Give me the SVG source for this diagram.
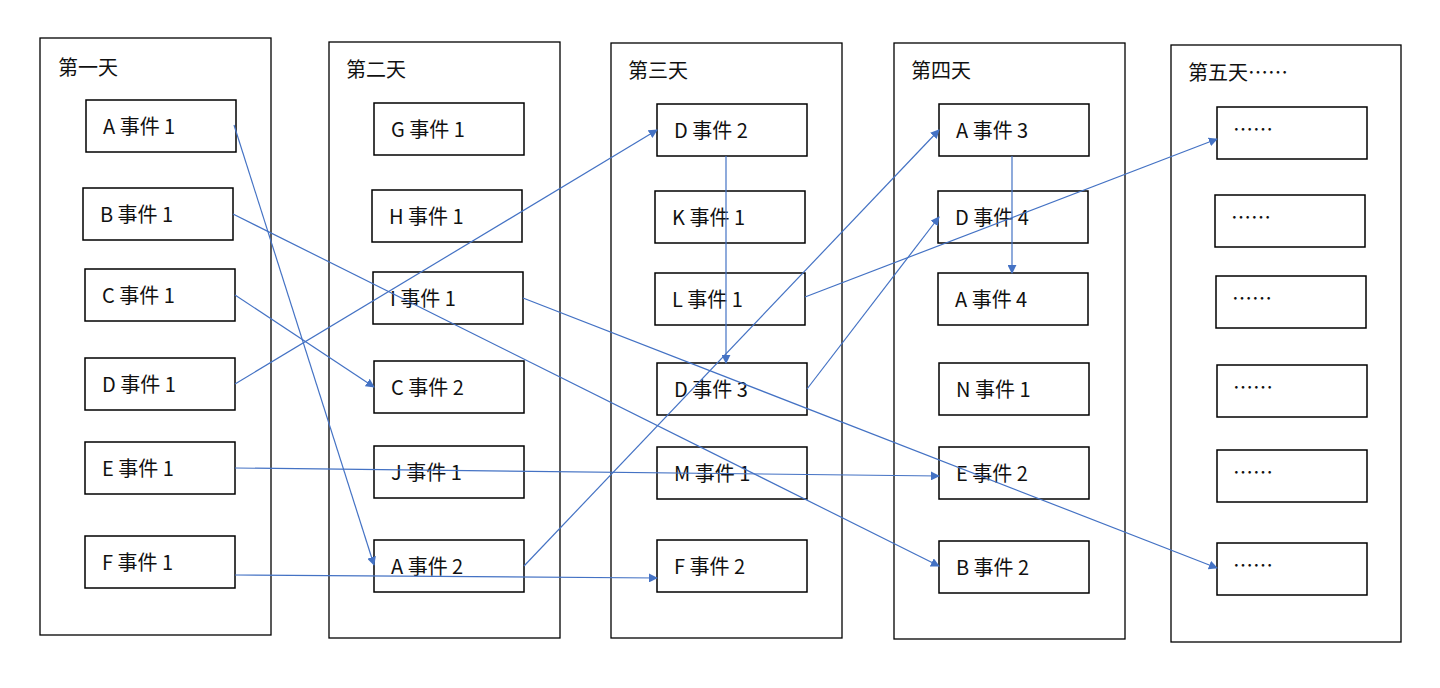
<svg xmlns="http://www.w3.org/2000/svg" width="1440" height="688" viewBox="0 0 1440 688">
<style>
.col{fill:#fff;stroke:#000;stroke-width:1.3}
.box{fill:#fff;stroke:#000;stroke-width:1.5}
text{font-family:"Noto Sans CJK SC","Liberation Sans",sans-serif;font-size:20px;fill:#111}
.c line{stroke:#4472C4;stroke-width:1.2;marker-end:url(#a)}
</style>
<defs><marker id="a" viewBox="0 0 10 10" refX="9" refY="5" markerWidth="9" markerHeight="9" markerUnits="userSpaceOnUse" orient="auto"><path d="M0,0L10,5L0,10z" fill="#4472C4"/></marker></defs>
<rect width="1440" height="688" fill="#fff"/>
<g id="day1"><rect class="col" x="40" y="38" width="231" height="597"/><text x="58" y="75">第一天</text></g>
<g id="day2"><rect class="col" x="329" y="42" width="231" height="596"/><text x="346" y="77">第二天</text></g>
<g id="day3"><rect class="col" x="611" y="43" width="231" height="595"/><text x="628" y="78">第三天</text></g>
<g id="day4"><rect class="col" x="894" y="43" width="231" height="596"/><text x="911" y="78">第四天</text></g>
<g id="day5"><rect class="col" x="1171" y="45" width="230" height="597"/><text x="1188" y="80">第五天……</text></g>
<g id="A1"><rect class="box" x="86" y="100" width="150" height="52"/><text x="103" y="134">A 事件 1</text></g>
<g id="B1"><rect class="box" x="83" y="188" width="150" height="52"/><text x="100" y="222">B 事件 1</text></g>
<g id="C1"><rect class="box" x="85" y="269" width="150" height="52"/><text x="102" y="303">C 事件 1</text></g>
<g id="D1"><rect class="box" x="85" y="358" width="150" height="52"/><text x="102" y="392">D 事件 1</text></g>
<g id="E1"><rect class="box" x="85" y="442" width="150" height="52"/><text x="102" y="476">E 事件 1</text></g>
<g id="F1"><rect class="box" x="85" y="536" width="150" height="52"/><text x="102" y="570">F 事件 1</text></g>
<g id="G1"><rect class="box" x="374" y="103" width="150" height="52"/><text x="391" y="137">G 事件 1</text></g>
<g id="H1"><rect class="box" x="372" y="190" width="150" height="52"/><text x="389" y="224">H 事件 1</text></g>
<g id="I1"><rect class="box" x="373" y="272" width="150" height="52"/><text x="390" y="306">I 事件 1</text></g>
<g id="C2"><rect class="box" x="374" y="361" width="150" height="52"/><text x="391" y="395">C 事件 2</text></g>
<g id="J1"><rect class="box" x="374" y="446" width="150" height="52"/><text x="391" y="480">J 事件 1</text></g>
<g id="A2"><rect class="box" x="374" y="540" width="150" height="52"/><text x="391" y="574">A 事件 2</text></g>
<g id="D2"><rect class="box" x="657" y="104" width="150" height="52"/><text x="674" y="138">D 事件 2</text></g>
<g id="K1"><rect class="box" x="655" y="191" width="150" height="52"/><text x="672" y="225">K 事件 1</text></g>
<g id="L1"><rect class="box" x="655" y="273" width="150" height="52"/><text x="672" y="307">L 事件 1</text></g>
<g id="D3"><rect class="box" x="657" y="363" width="150" height="52"/><text x="674" y="397">D 事件 3</text></g>
<g id="M1"><rect class="box" x="657" y="447" width="150" height="52"/><text x="674" y="481">M 事件 1</text></g>
<g id="F2"><rect class="box" x="657" y="540" width="150" height="52"/><text x="674" y="574">F 事件 2</text></g>
<g id="A3"><rect class="box" x="939" y="104" width="150" height="52"/><text x="956" y="138">A 事件 3</text></g>
<g id="D4"><rect class="box" x="938" y="191" width="150" height="52"/><text x="955" y="225">D 事件 4</text></g>
<g id="A4"><rect class="box" x="938" y="273" width="150" height="52"/><text x="955" y="307">A 事件 4</text></g>
<g id="N1"><rect class="box" x="939" y="363" width="150" height="52"/><text x="956" y="397">N 事件 1</text></g>
<g id="E2"><rect class="box" x="939" y="447" width="150" height="52"/><text x="956" y="481">E 事件 2</text></g>
<g id="B2"><rect class="box" x="939" y="541" width="150" height="52"/><text x="956" y="575">B 事件 2</text></g>
<g id="X1"><rect class="box" x="1217" y="107" width="150" height="52"/><text x="1233" y="137">……</text></g>
<g id="X2"><rect class="box" x="1215" y="195" width="150" height="52"/><text x="1231" y="225">……</text></g>
<g id="X3"><rect class="box" x="1216" y="276" width="150" height="52"/><text x="1232" y="306">……</text></g>
<g id="X4"><rect class="box" x="1217" y="365" width="150" height="52"/><text x="1233" y="395">……</text></g>
<g id="X5"><rect class="box" x="1217" y="450" width="150" height="52"/><text x="1233" y="480">……</text></g>
<g id="X6"><rect class="box" x="1217" y="543" width="150" height="52"/><text x="1233" y="573">……</text></g>
<g class="c" id="connectors">
<line x1="234" y1="125" x2="374" y2="565"/>
<line x1="233" y1="214" x2="939" y2="566"/>
<line x1="235" y1="295" x2="374" y2="387"/>
<line x1="235" y1="384" x2="657" y2="130"/>
<line x1="235" y1="468" x2="939" y2="476"/>
<line x1="235" y1="575" x2="657" y2="578"/>
<line x1="523" y1="298" x2="1217" y2="568"/>
<line x1="524" y1="566" x2="939" y2="130"/>
<line x1="726" y1="156" x2="726" y2="363"/>
<line x1="805" y1="297" x2="1217" y2="139"/>
<line x1="807" y1="389" x2="939" y2="217"/>
<line x1="1012" y1="156" x2="1012" y2="273"/>
</g>
</svg>
